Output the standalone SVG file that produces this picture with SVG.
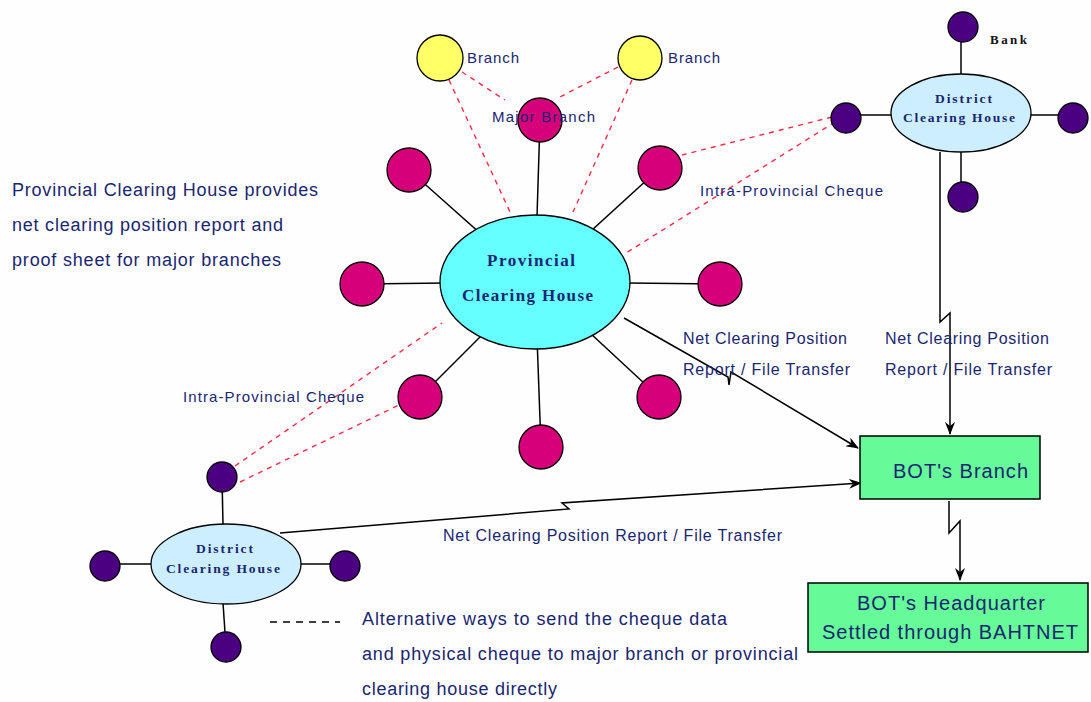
<svg xmlns="http://www.w3.org/2000/svg" width="1091" height="702" viewBox="0 0 1091 702">
<defs>
<marker id="arr" markerWidth="13" markerHeight="10" refX="12" refY="5" orient="auto" markerUnits="userSpaceOnUse">
<path d="M0,0 L13,5 L0,10 L4,5 z" fill="#000"/>
</marker>
<style>
.bg{fill:#fefefe}
.spoke{stroke:#000;stroke-width:1.5;fill:none}
.dash{stroke:#ff2a45;stroke-width:1.4;stroke-dasharray:5,5;fill:none}
.flow{stroke:#000;stroke-width:1.5;fill:none;marker-end:url(#arr)}
.mag{fill:#d6007a;stroke:#000;stroke-width:1.3}
.pur{fill:#4b0082;stroke:#000;stroke-width:1.3}
.yel{fill:#ffff66;stroke:#000;stroke-width:1.3}
.prov{fill:#66ffff;stroke:#000;stroke-width:1.3}
.dist{fill:#cceeff;stroke:#000;stroke-width:1.3}
.box{fill:#66fa99;stroke:#000;stroke-width:1.5}
.t{font-family:"Liberation Sans",Arial,sans-serif;fill:#1a2670}
.s{font-family:"Liberation Serif","Times New Roman",serif;fill:#1a2670;font-weight:bold}
</style>
</defs>
<rect class="bg" x="0" y="0" width="1091" height="702"/>

<g id="connectors">
<line class="spoke" x1="535" y1="282" x2="540" y2="120"/>
<line class="spoke" x1="535" y1="282" x2="409" y2="170"/>
<line class="spoke" x1="535" y1="282" x2="660" y2="168"/>
<line class="spoke" x1="535" y1="282" x2="362" y2="284"/>
<line class="spoke" x1="535" y1="282" x2="720" y2="284"/>
<line class="spoke" x1="535" y1="282" x2="420" y2="397"/>
<line class="spoke" x1="535" y1="282" x2="659" y2="397"/>
<line class="spoke" x1="535" y1="282" x2="541" y2="447"/>
<line class="spoke" x1="961" y1="27" x2="961" y2="74"/>
<line class="spoke" x1="846" y1="115" x2="891" y2="115"/>
<line class="spoke" x1="1030" y1="115" x2="1073" y2="115"/>
<line class="spoke" x1="961" y1="152" x2="961" y2="197"/>
<line class="spoke" x1="222" y1="477" x2="223" y2="525"/>
<line class="spoke" x1="105" y1="564" x2="152" y2="564"/>
<line class="spoke" x1="300" y1="564" x2="345" y2="564"/>
<line class="spoke" x1="223" y1="603" x2="226" y2="647"/>
<line class="dash" x1="462" y1="72" x2="505" y2="100"/>
<line class="dash" x1="618" y1="67" x2="558" y2="98"/>
<line class="dash" x1="449" y1="80" x2="510" y2="212"/>
<line class="dash" x1="632" y1="80" x2="573" y2="212"/>
<line class="dash" x1="832" y1="117" x2="682" y2="155"/>
<line class="dash" x1="835" y1="122" x2="626" y2="253"/>
<line class="dash" x1="235" y1="466" x2="442" y2="323"/>
<line class="dash" x1="240" y1="482" x2="399" y2="405"/>
<polyline class="flow" points="624,318 728,377 729,385 731,372 858,448"/>
<polyline class="flow" points="940,152 940,322 950,313 950,434"/>
<polyline class="flow" points="280,533 569,509 562,503 861,483"/>
<polyline class="flow" points="949,501 949,533 960,521 960,580"/>
<line x1="270" y1="622" x2="340" y2="622" stroke="#000" stroke-width="1.3" stroke-dasharray="7,6"/>
</g>

<g id="provincial">
<ellipse class="prov" cx="535" cy="282" rx="95" ry="67"/>
<text class="s" x="487" y="266" font-size="17" textLength="88" lengthAdjust="spacing">Provincial</text>
<text class="s" x="462" y="301" font-size="17" textLength="131" lengthAdjust="spacing">Clearing House</text>
</g>
<g id="major-branch-top">
<circle class="mag" cx="540" cy="120" r="22"/>
<text class="t" x="492" y="122" font-size="15" textLength="103" lengthAdjust="spacing">Major Branch</text>
</g>
<g id="major-branch-ul"><circle class="mag" cx="409" cy="170" r="22"/></g>
<g id="major-branch-ur"><circle class="mag" cx="660" cy="168" r="22"/></g>
<g id="major-branch-l"><circle class="mag" cx="362" cy="284" r="22"/></g>
<g id="major-branch-r"><circle class="mag" cx="720" cy="284" r="22"/></g>
<g id="major-branch-ll"><circle class="mag" cx="420" cy="397" r="22"/></g>
<g id="major-branch-lr"><circle class="mag" cx="659" cy="397" r="22"/></g>
<g id="major-branch-b"><circle class="mag" cx="541" cy="447" r="22"/></g>

<g id="branch-left">
<circle class="yel" cx="440" cy="58" r="23"/>
<text class="t" x="467" y="63" font-size="15" textLength="52" lengthAdjust="spacing">Branch</text>
</g>
<g id="branch-right">
<circle class="yel" cx="640" cy="58" r="22"/>
<text class="t" x="668" y="63" font-size="15" textLength="52" lengthAdjust="spacing">Branch</text>
</g>

<g id="district-right">
<ellipse class="dist" cx="961" cy="113" rx="70" ry="39"/>
<text class="s" x="935" y="103" font-size="13.5" textLength="57" lengthAdjust="spacing">District</text>
<text class="s" x="903" y="122" font-size="13.5" textLength="112" lengthAdjust="spacing">Clearing House</text>
</g>
<g id="bank-top">
<circle class="pur" cx="963" cy="27" r="15"/>
<text x="990" y="44" font-size="13" font-weight="bold" font-family="Liberation Serif, serif" fill="#111" textLength="37" lengthAdjust="spacing">Bank</text>
</g>
<g id="bank-r-left"><circle class="pur" cx="846" cy="118" r="15"/></g>
<g id="bank-r-right"><circle class="pur" cx="1073" cy="118" r="15"/></g>
<g id="bank-r-bottom"><circle class="pur" cx="963" cy="197" r="15"/></g>

<g id="district-left">
<ellipse class="dist" cx="226" cy="564" rx="75" ry="40"/>
<text class="s" x="196" y="553" font-size="13.5" textLength="57" lengthAdjust="spacing">District</text>
<text class="s" x="166" y="573" font-size="13.5" textLength="114" lengthAdjust="spacing">Clearing House</text>
</g>
<g id="bank-l-top"><circle class="pur" cx="222" cy="477" r="15"/></g>
<g id="bank-l-left"><circle class="pur" cx="105" cy="566" r="15"/></g>
<g id="bank-l-right"><circle class="pur" cx="345" cy="566" r="15"/></g>
<g id="bank-l-bottom"><circle class="pur" cx="226" cy="647" r="15"/></g>

<g id="bot-branch">
<rect class="box" x="860" y="436" width="180" height="63"/>
<text class="t" x="893" y="478" font-size="20" textLength="135" lengthAdjust="spacing">BOT's Branch</text>
</g>
<g id="bot-hq">
<rect class="box" x="808" y="583" width="280" height="69"/>
<text class="t" x="857" y="610" font-size="20" textLength="188" lengthAdjust="spacing">BOT's Headquarter</text>
<text class="t" x="822" y="639" font-size="20" textLength="256" lengthAdjust="spacing">Settled through BAHTNET</text>
</g>

<g id="labels">
<text class="t" x="12" y="196" font-size="18" textLength="306" lengthAdjust="spacing">Provincial Clearing House provides</text>
<text class="t" x="12" y="231" font-size="18" textLength="271" lengthAdjust="spacing">net clearing position report and</text>
<text class="t" x="12" y="266" font-size="18" textLength="269" lengthAdjust="spacing">proof sheet for major branches</text>
<text class="t" x="700" y="196" font-size="15" textLength="183" lengthAdjust="spacing">Intra-Provincial Cheque</text>
<text class="t" x="183" y="402" font-size="15" textLength="181" lengthAdjust="spacing">Intra-Provincial Cheque</text>
<text class="t" x="683" y="344" font-size="16" textLength="164" lengthAdjust="spacing">Net Clearing Position</text>
<text class="t" x="683" y="375" font-size="16" textLength="167" lengthAdjust="spacing">Report / File Transfer</text>
<text class="t" x="885" y="344" font-size="16" textLength="164" lengthAdjust="spacing">Net Clearing Position</text>
<text class="t" x="885" y="375" font-size="16" textLength="167" lengthAdjust="spacing">Report / File Transfer</text>
<text class="t" x="443" y="541" font-size="16" textLength="339" lengthAdjust="spacing">Net Clearing Position Report / File Transfer</text>
<text class="t" x="362" y="625" font-size="18" textLength="365" lengthAdjust="spacing">Alternative ways to send the cheque data</text>
<text class="t" x="362" y="660" font-size="18" textLength="436" lengthAdjust="spacing">and physical cheque to major branch or provincial</text>
<text class="t" x="362" y="695" font-size="18" textLength="195" lengthAdjust="spacing">clearing house directly</text>
</g>
</svg>
